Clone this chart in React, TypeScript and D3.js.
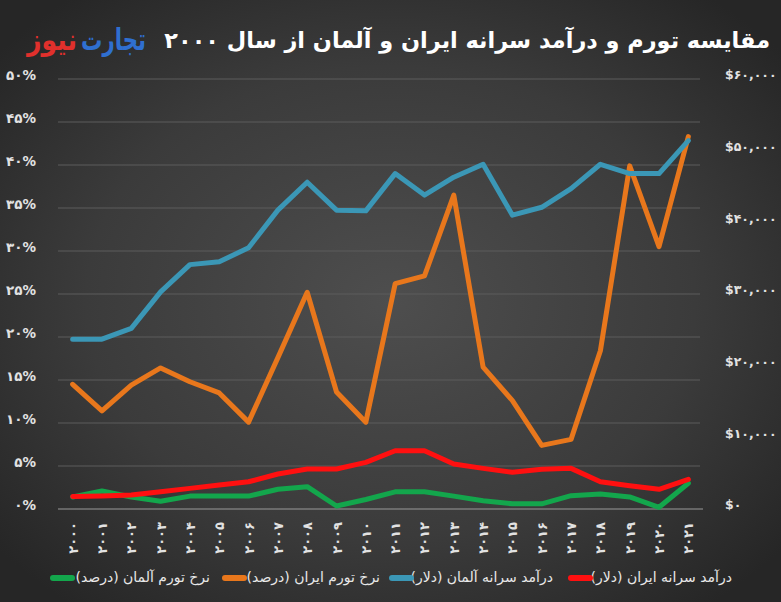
import React from "react";
import * as d3 from "d3";

const years = [2000, 2001, 2002, 2003, 2004, 2005, 2006, 2007, 2008, 2009, 2010, 2011, 2012, 2013, 2014, 2015, 2016, 2017, 2018, 2019, 2020, 2021];

// Percent (left axis)
const iranInflation = [14.5, 11.4, 14.4, 16.4, 14.8, 13.5, 10.1, 17.6, 25.2, 13.6, 10.1, 26.2, 27.1, 36.5, 16.5, 12.6, 7.4, 8.1, 18.4, 39.9, 30.5, 43.3];
const germanyInflation = [1.4, 2.1, 1.4, 0.9, 1.5, 1.5, 1.5, 2.3, 2.6, 0.35, 1.1, 2.0, 2.0, 1.5, 0.95, 0.6, 0.6, 1.55, 1.75, 1.4, 0.2, 3.0];
// Dollars (right axis)
const germanyIncome = [23700, 23700, 25200, 30300, 34100, 34500, 36450, 41700, 45600, 41700, 41600, 46800, 43800, 46300, 48100, 41000, 42100, 44700, 48100, 46800, 46800, 51400];
const iranIncome = [1750, 1810, 1950, 2400, 2880, 3350, 3800, 4880, 5580, 5580, 6500, 8130, 8130, 6280, 5670, 5120, 5540, 5670, 3810, 3250, 2750, 4140];

const leftTicks = [0, 5, 10, 15, 20, 25, 30, 35, 40, 45, 50];
const rightTicks = [0, 10000, 20000, 30000, 40000, 50000, 60000];

const title = "مقایسه تورم و درآمد سرانه ایران و آلمان از سال ۲۰۰۰";
const logoBlue = "تجارت";
const logoRed = "نیوز";

const legendItems = [
  { label: "درآمد سرانه ایران (دلار)", color: "#ff1010" },
  { label: "درآمد سرانه آلمان (دلار)", color: "#3b97b6" },
  { label: "نرخ تورم ایران (درصد)", color: "#e8771c" },
  { label: "نرخ تورم آلمان (درصد)", color: "#13a64c" },
];

const fa = (s: string) => s.replace(/[0-9]/g, (d) => "۰۱۲۳۴۵۶۷۸۹"[+d]);

const W = 781;
const H = 602;
const FONT = "'DejaVu Sans', 'Noto Sans', sans-serif";

export default function App() {
  const x = d3.scalePoint<number>().domain(years).range([58, 703]).padding(0.5);
  const yL = d3.scaleLinear().domain([0, 50]).range([509, 79]);
  const yR = d3.scaleLinear().domain([0, 60000]).range([509, 79]);

  const lineL = d3.line<number>().x((_, i) => x(years[i])!).y((d) => yL(d));
  const lineR = d3.line<number>().x((_, i) => x(years[i])!).y((d) => yR(d));

  const series = [
    { d: lineL(germanyInflation), color: "#13a64c" },
    { d: lineL(iranInflation), color: "#e8771c" },
    { d: lineR(germanyIncome), color: "#3b97b6" },
    { d: lineR(iranIncome), color: "#ff1010" },
  ];

  const legendRight = [732, 553, 380, 210];
  const swatchStarts = [568, 389, 222, 50];

  return (
    <svg width={W} height={H} style={{ position: "absolute", left: 0, top: 0, display: "block" }} fontFamily={FONT}>
      <defs>
        <radialGradient id="bg" cx="50%" cy="50%" r="65%">
          <stop offset="0%" stopColor="#4e4e4e" />
          <stop offset="60%" stopColor="#3b3b3b" />
          <stop offset="100%" stopColor="#262626" />
        </radialGradient>
      </defs>
      <rect width={W} height={H} fill="url(#bg)" />

      {/* Title */}
      <text x={770} y={48} fill="#ffffff" fontSize={22.4} fontWeight="bold" direction="rtl" textAnchor="start">
        {title}
      </text>
      <text x={81} y={50} fill="#2f6fd0" fontSize={30} fontWeight={900} textLength={65} lengthAdjust="spacingAndGlyphs" direction="rtl" textAnchor="end">
        {logoBlue}
      </text>
      <text x={27} y={50} fill="#e0302c" fontSize={30} fontWeight={900} textLength={50} lengthAdjust="spacingAndGlyphs" direction="rtl" textAnchor="end">
        {logoRed}
      </text>

      {/* Gridlines */}
      {leftTicks.filter((t) => t > 0).map((t) => (
        <line key={t} x1={58} x2={700} y1={yL(t)} y2={yL(t)} stroke="#5c5c5c" strokeWidth={1} />
      ))}
      <line x1={58} x2={703} y1={yL(0)} y2={yL(0)} stroke="#9a9a9a" strokeWidth={1.2} />

      {/* Left axis labels */}
      {leftTicks.map((t) => (
        <text key={t} x={36} y={yL(t) - 4} dy="0.35em" fill="#e2e2e2" fontSize={13.5} fontWeight="bold" textAnchor="end">
          {fa(`${t}%`)}
        </text>
      ))}
      {/* Right axis labels */}
      {rightTicks.map((t) => (
        <text key={t} x={725} y={yR(t) - 4} dy="0.35em" fill="#e2e2e2" fontSize={12.5} fontWeight="bold" textAnchor="start">
          {fa("$" + d3.format(",")(t))}
        </text>
      ))}

      {/* X labels */}
      {years.map((yv) => (
        <text
          key={yv}
          transform={`translate(${x(yv)! + 5},522) rotate(-90)`}
          fill="#e2e2e2"
          fontSize={13}
          fontWeight="bold"
          textAnchor="end"
        >
          {fa(String(yv))}
        </text>
      ))}

      {/* Lines */}
      {series.map((s, i) => (
        <path key={i} d={s.d!} fill="none" stroke={s.color} strokeWidth={5} strokeLinejoin="round" strokeLinecap="round" />
      ))}

      {/* Legend */}
      {legendItems.map((it, i) => (
        <text key={i} x={legendRight[i]} y={577} dy="0.35em" fill="#e8e8e8" fontSize={14} direction="rtl" textAnchor="start">
          {it.label}
        </text>
      ))}
      {legendItems.map((it, i) => (
        <line key={"s" + i} x1={swatchStarts[i] + 3} x2={swatchStarts[i] + 22} y1={578} y2={578} stroke={it.color} strokeWidth={6} strokeLinecap="round" />
      ))}
    </svg>
  );
}
